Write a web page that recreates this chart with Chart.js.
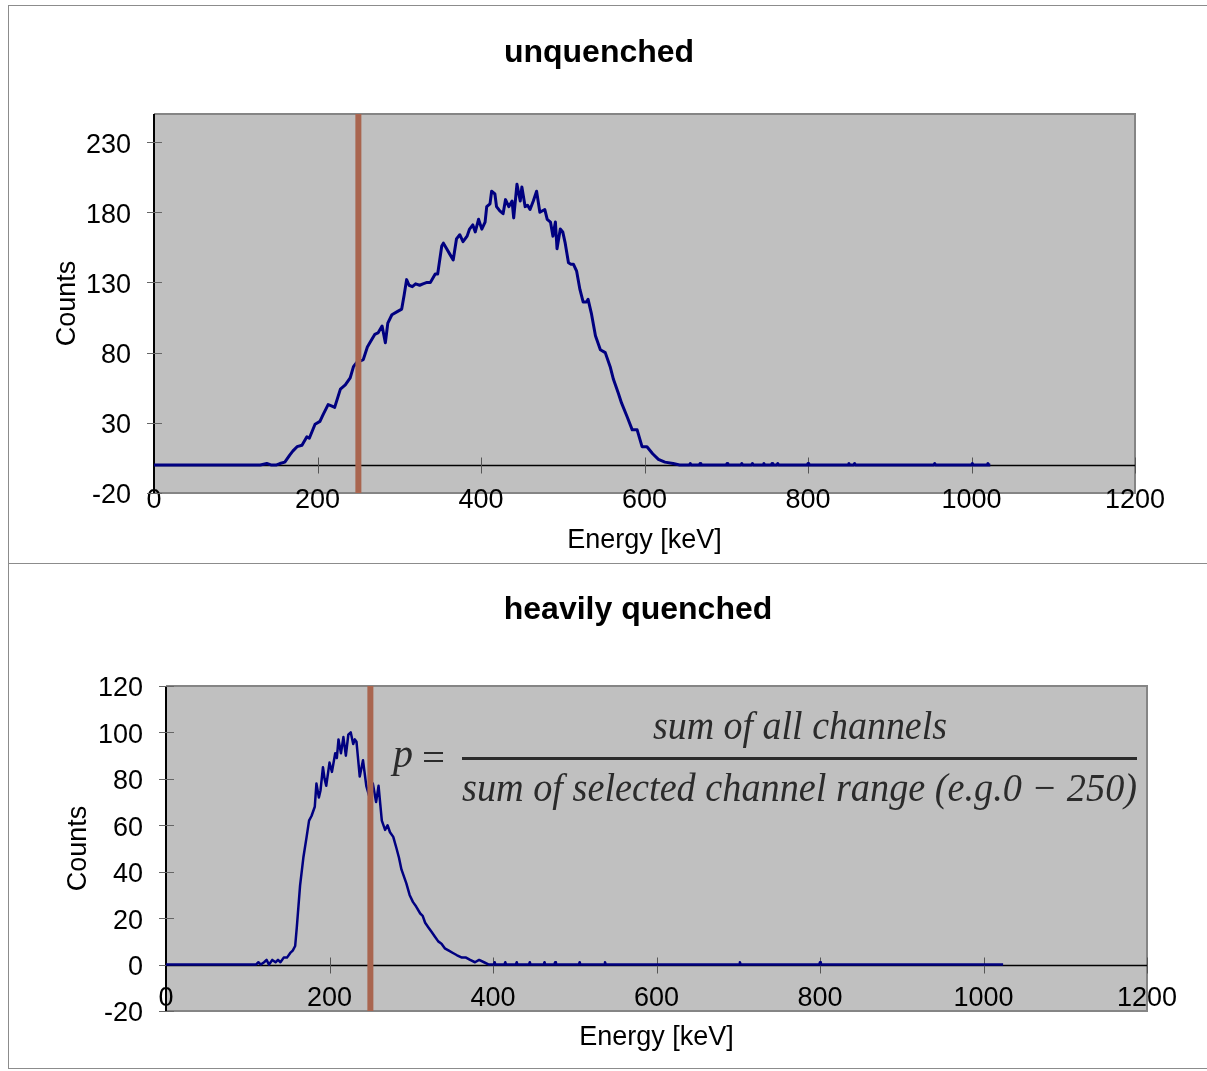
<!DOCTYPE html>
<html>
<head>
<meta charset="utf-8">
<title>Quenching spectra</title>
<script src="https://cdn.jsdelivr.net/npm/chart.js@4.4.1/dist/chart.umd.min.js"></script>
<style>
body { margin: 0; background: #fff; }
#page { position: relative; width: 1207px; height: 1071px; overflow: hidden; }
.panel { position: absolute; left: 8px; width: 1300px; border: 1px solid #8c8c8c; box-sizing: border-box; }
canvas { position: absolute; left: 0; }
</style>
</head>
<body>
<div id="page">
  <div class="panel" style="top:5px;height:559px"></div>
  <div class="panel" style="top:563px;height:506px"></div>
  <canvas id="chartTop" width="1207" height="563" style="top:0"></canvas>
  <canvas id="chartBottom" width="1207" height="508" style="top:563px"></canvas>
</div>
<script>
// axis ticks
const xTicks = [0, 200, 400, 600, 800, 1000, 1200];
const topYTicks = [-20, 30, 80, 130, 180, 230];
const topYMax = 250;
const bottomYTicks = [-20, 0, 20, 40, 60, 80, 100, 120];
const bottomYMax = 120;
const cutoffKeV = 250;

const topTitle = 'unquenched';
const bottomTitle = 'heavily quenched';
const xTitle = 'Energy [keV]';
const yTitle = 'Counts';

// unquenched spectrum
const topEnergy = [0, 130, 138, 143, 150, 154, 160, 166, 170, 175, 181, 187, 190, 197, 203, 207, 213, 217, 221, 228,
  234, 240, 244, 248, 252, 256, 261, 264, 270, 274, 279, 283, 286, 291, 297, 303, 306, 309, 312, 316,
  320, 325, 329, 334, 338, 340, 344, 347, 352, 354, 358, 362, 366, 370, 374, 378, 383, 386, 390, 393,
  397, 401, 405, 407, 411, 413, 417, 419, 423, 427, 430, 434, 438, 440, 444, 448, 450, 454, 457, 460,
  464, 468, 472, 478, 481, 485, 488, 491, 493, 497, 500, 503, 507, 510, 513, 517, 521, 525, 529, 531,
  535, 540, 546, 552, 558, 562, 568, 572, 579, 585, 591, 597, 603, 610, 617, 625, 635, 643,
  655, 656, 657, 667, 668, 669, 700, 701, 702, 718, 719, 720, 731, 732, 733, 745, 746, 747, 755, 756, 757,
  762, 763, 764, 799, 800, 801, 849, 850, 851, 856, 857, 858, 954, 955, 956, 1000, 1001, 1002, 1019, 1020, 1021, 1023];
const topCounts = [0, 0, 1, 0, 0, 1, 2, 7, 10, 13, 14, 20, 19, 29, 31, 36, 43, 42, 41, 54,
  57, 62, 70, 73, 74, 75, 84, 87, 93, 94, 99, 87, 101, 107, 109, 111, 121, 132, 128, 127,
  129, 128, 129, 130, 130, 132, 136, 136, 156, 158, 154, 150, 146, 161, 164, 159, 163, 168, 171, 166,
  175, 168, 173, 184, 186, 195, 193, 184, 181, 179, 189, 184, 188, 176, 200, 188, 198, 184, 185, 182,
  188, 195, 180, 182, 175, 173, 163, 173, 154, 168, 166, 158, 144, 143, 143, 138, 125, 116, 116, 118,
  108, 92, 82, 80, 70, 61, 51, 44, 34, 25, 25, 13, 13, 8, 4, 2, 1, 0,
  0, 1, 0, 0, 1, 0, 0, 1, 0, 0, 1, 0, 0, 1, 0, 0, 1, 0, 0, 1, 0,
  0, 1, 0, 0, 1, 0, 0, 1, 0, 0, 1, 0, 0, 1, 0, 0, 1, 0, 0, 1, 0, 0];

// heavily quenched spectrum
const bottomEnergy = [0, 110, 113, 116, 120, 123, 126, 130, 134, 137, 140, 144, 148, 152, 155, 158, 160, 164, 168, 172,
  175, 178, 182, 184, 187, 189, 192, 194, 196, 200, 203, 207, 209, 211, 214, 217, 220, 223, 226, 229,
  231, 233, 237, 241, 245, 249, 253, 257, 260, 264, 268, 271, 274, 278, 282, 285, 288, 291, 294, 298,
  302, 306, 311, 314, 317, 321, 325, 329, 333, 337, 341, 346, 351, 356, 362, 367, 372, 378, 383, 389,
  395, 401, 402, 403, 414, 415, 416, 428, 429, 430, 444, 445, 446, 462, 463, 464, 475, 476, 477,
  505, 506, 507, 536, 537, 538, 701, 702, 703, 799, 800, 801, 1024];
const bottomCounts = [0, 0, 1, 0, 1, 2, 0, 2, 1, 2, 1, 3, 3, 5, 6, 8, 16, 34, 46, 55,
  62, 64, 68, 78, 72, 75, 85, 80, 77, 87, 83, 91, 89, 97, 91, 98, 90, 99, 100, 95,
  97, 96, 81, 88, 77, 72, 78, 70, 77, 62, 58, 60, 57, 55, 50, 46, 41, 38, 35, 30,
  27, 25, 22, 21, 18, 16, 14, 12, 10, 9, 7, 6, 5, 4, 3, 3, 2, 1, 2, 1,
  0, 0, 1, 0, 0, 1, 0, 0, 1, 0, 0, 1, 0, 0, 1, 0, 0, 1, 0,
  0, 1, 0, 0, 1, 0, 0, 1, 0, 0, 1, 0, 0];

const FONT = "'Liberation Sans', Arial, sans-serif";

const framePlugin = {
  id: 'frame',
  // grey plot area and its frame, under the axis labels
  beforeDraw(chart) {
    const { ctx, chartArea: a } = chart;
    ctx.save();
    ctx.fillStyle = '#c0c0c0';
    ctx.fillRect(a.left, a.top, a.right - a.left, a.bottom - a.top);
    ctx.strokeStyle = '#858585';
    ctx.lineWidth = 2;
    ctx.beginPath();
    ctx.moveTo(a.left, a.top);
    ctx.lineTo(a.right, a.top);
    ctx.lineTo(a.right, a.bottom);
    ctx.lineTo(a.left, a.bottom);
    ctx.stroke();
    ctx.strokeStyle = '#000';
    ctx.beginPath();
    ctx.moveTo(a.left, a.top);
    ctx.lineTo(a.left, a.bottom);
    ctx.stroke();
    ctx.restore();
  },
  // tick marks and the x axis through zero
  beforeDatasetsDraw(chart) {
    const { ctx, chartArea: a, scales: { x, y } } = chart;
    ctx.save();
    ctx.strokeStyle = '#666';
    ctx.lineWidth = 1;
    y.ticks.forEach(t => {
      const py = Math.round(y.getPixelForValue(t.value)) + 0.5;
      ctx.beginPath();
      ctx.moveTo(a.left - 7, py);
      ctx.lineTo(a.left + 8, py);
      ctx.stroke();
    });
    const zy = Math.round(y.getPixelForValue(0)) + 0.5;
    ctx.strokeStyle = '#000';
    ctx.lineWidth = 1.5;
    ctx.beginPath();
    ctx.moveTo(a.left, zy);
    ctx.lineTo(a.right, zy);
    ctx.stroke();
    ctx.strokeStyle = '#555';
    ctx.lineWidth = 1;
    x.ticks.forEach(t => {
      if (t.value === 0) return;
      const px = Math.round(x.getPixelForValue(t.value)) + 0.5;
      ctx.beginPath();
      ctx.moveTo(px, zy - 8);
      ctx.lineTo(px, zy + 8);
      ctx.stroke();
    });
    ctx.restore();
  },
  afterDraw(chart, args, opts) {
    const ctx = chart.ctx;
    ctx.save();
    ctx.fillStyle = '#000';
    ctx.font = 'bold 32px ' + FONT;
    ctx.textAlign = 'center';
    ctx.textBaseline = 'middle';
    ctx.fillText(opts.title, opts.titleX, opts.titleY);
    ctx.restore();
    if (opts.formula) drawFormula(ctx);
  }
};

// squeeze a string into a given width
function fitText(ctx, text, left, baseline, width) {
  const w = ctx.measureText(text).width;
  ctx.save();
  ctx.translate(left, baseline);
  ctx.scale(width / w, 1);
  ctx.fillText(text, 0, 0);
  ctx.restore();
}

function drawFormula(ctx) {
  ctx.save();
  ctx.fillStyle = '#2b2b2b';
  ctx.textAlign = 'left';
  ctx.textBaseline = 'alphabetic';
  ctx.font = "italic 40px 'Liberation Serif', 'DejaVu Serif', serif";
  fitText(ctx, 'p', 393, 204, 20);
  ctx.font = "40px 'Liberation Serif', 'DejaVu Serif', serif";
  fitText(ctx, '=', 422, 208, 23);
  ctx.fillRect(462, 194, 675, 3);
  ctx.font = "italic 40px 'Liberation Serif', 'DejaVu Serif', serif";
  fitText(ctx, 'sum of all channels', 653, 176, 294);
  fitText(ctx, 'sum of selected channel range (e.g.0 \u2212 250)', 462, 238, 675);
  ctx.restore();
}

function makeChart(id, cfg) {
  const points = cfg.energy.map((e, i) => ({ x: e, y: cfg.counts[i] }));
  const yMin = cfg.yTicks[0];
  const cutoff = [{ x: cutoffKeV, y: yMin }, { x: cutoffKeV, y: cfg.yMax }];
  const tickFont = { family: FONT, size: 27 };
  return new Chart(document.getElementById(id), {
    type: 'line',
    data: {
      datasets: [
        { data: cutoff, borderColor: '#a9654f', borderWidth: 6, pointRadius: 0, borderCapStyle: 'butt' },
        { data: points, borderColor: '#000080', borderWidth: cfg.lineWidth, pointRadius: 0, tension: 0, borderJoinStyle: 'round' }
      ]
    },
    options: {
      responsive: false,
      animation: false,
      events: [],
      layout: { padding: cfg.padding },
      plugins: {
        legend: { display: false },
        tooltip: { enabled: false },
        frame: { title: cfg.title, titleX: cfg.titleX, titleY: cfg.titleY, formula: cfg.formula }
      },
      scales: {
        x: {
          type: 'linear',
          min: 0,
          max: 1200,
          grid: { display: false, drawTicks: false },
          border: { display: false },
          afterBuildTicks: s => { s.ticks = xTicks.map(v => ({ value: v })); },
          afterFit: s => { s.height = cfg.xHeight; },
          // mirrored so the labels can sit over the plot area without clipping
          ticks: { autoSkip: false, maxRotation: 0, mirror: true, padding: cfg.xLabelPad, color: '#000', font: tickFont, callback: v => String(v) },
          title: { display: true, text: xTitle, color: '#000', padding: { top: 0, bottom: cfg.xTitlePad }, font: tickFont }
        },
        y: {
          type: 'linear',
          min: yMin,
          max: cfg.yMax,
          grid: { display: false, drawTicks: false },
          border: { display: false },
          afterBuildTicks: s => { s.ticks = cfg.yTicks.map(v => ({ value: v })); },
          afterFit: s => { s.width = cfg.yWidth; },
          ticks: { autoSkip: false, padding: 23, labelOffset: 3, color: '#000', font: tickFont, callback: v => String(v) },
          title: { display: true, text: yTitle, color: '#000', padding: { top: cfg.yTitlePad, bottom: 0 }, font: tickFont }
        }
      }
    },
    plugins: [framePlugin]
  });
}

makeChart('chartTop', {
  energy: topEnergy, counts: topCounts, yTicks: topYTicks, yMax: topYMax, lineWidth: 3,
  padding: { left: 40, right: 72, top: 114, bottom: 0 },
  yWidth: 114, xHeight: 70, xLabelPad: -24, xTitlePad: 6, yTitlePad: 11,
  title: topTitle, titleX: 599, titleY: 53, formula: false
});

makeChart('chartBottom', {
  energy: bottomEnergy, counts: bottomCounts, yTicks: bottomYTicks, yMax: bottomYMax, lineWidth: 2.5,
  padding: { left: 50, right: 60, top: 123, bottom: 0 },
  yWidth: 116, xHeight: 60, xLabelPad: -4, xTitlePad: 17, yTitlePad: 12,
  title: bottomTitle, titleX: 638, titleY: 47, formula: true
});
</script>
</body>
</html>
